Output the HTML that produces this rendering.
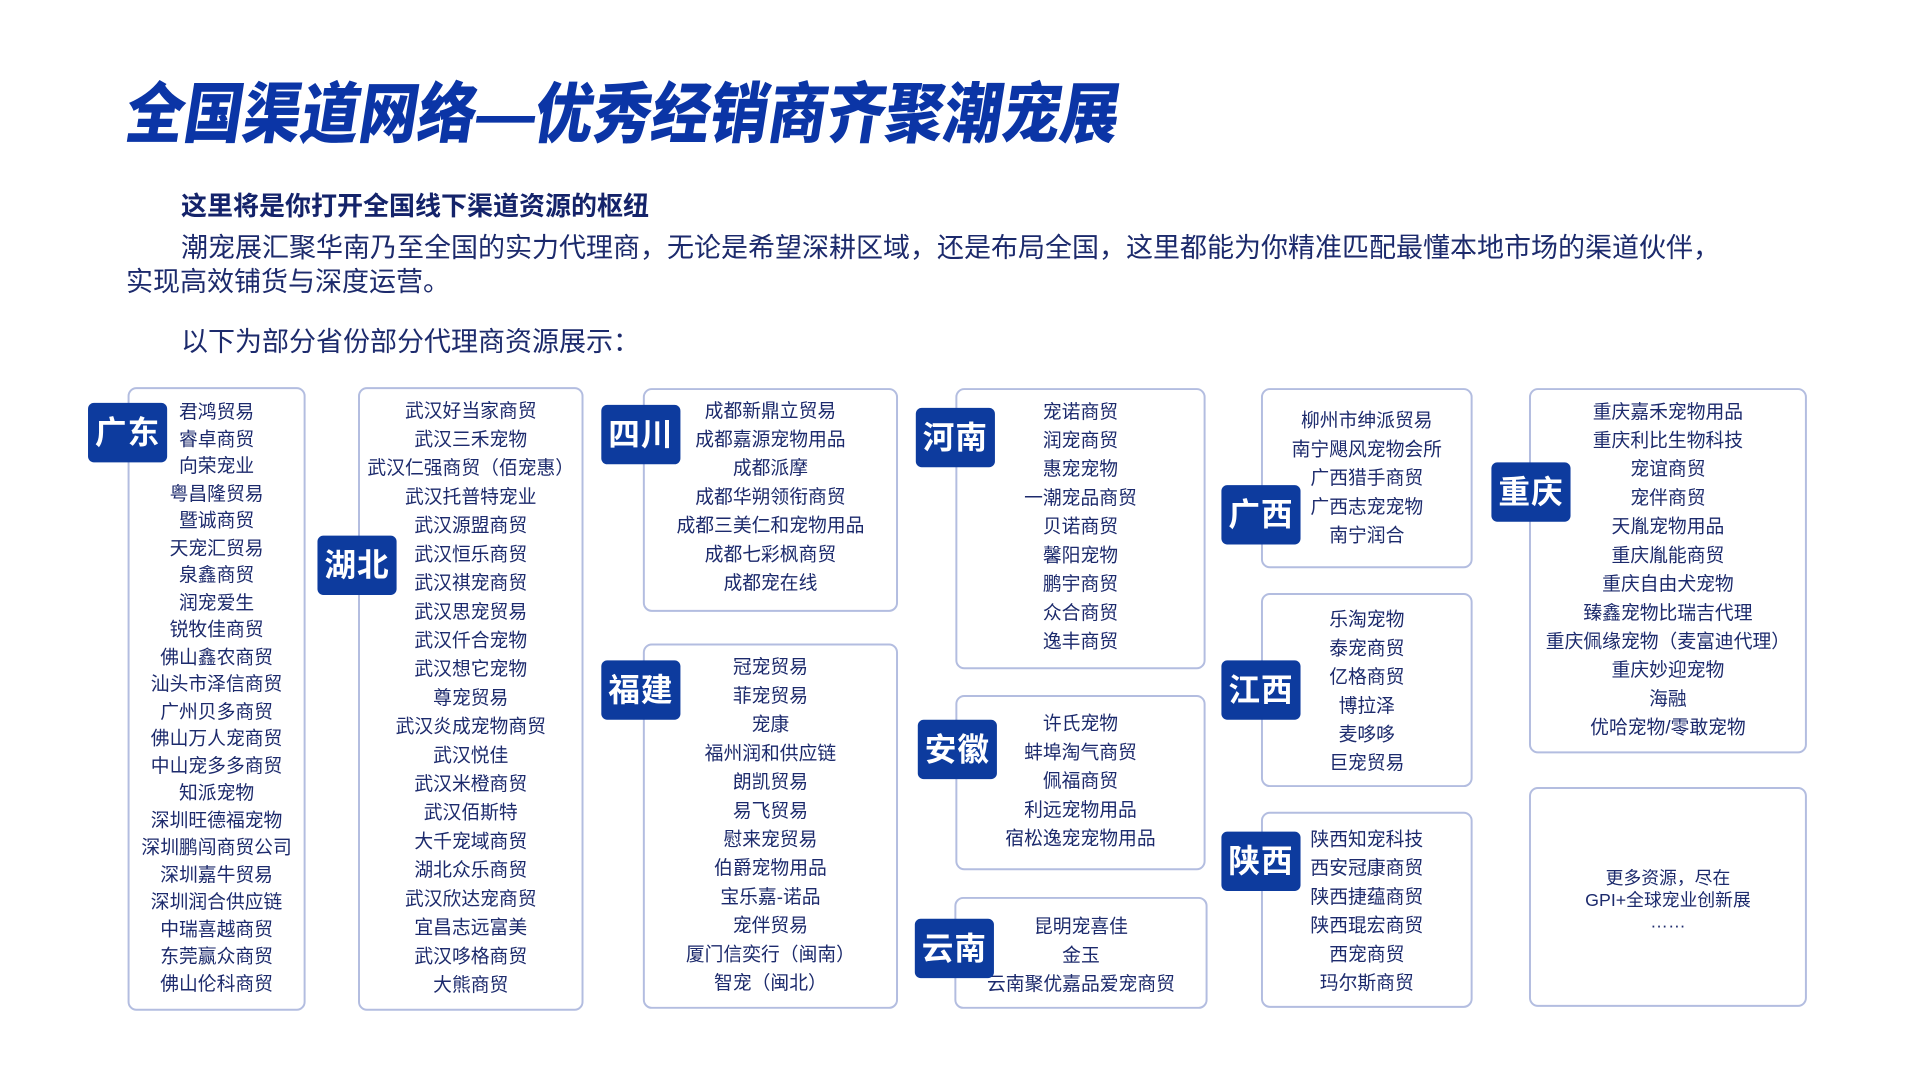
<!DOCTYPE html>
<html><head><meta charset="utf-8"><style>
*{margin:0;padding:0;box-sizing:border-box}
body{width:1920px;height:1080px;background:#fff;position:relative;overflow:hidden;font-family:"Liberation Sans","Noto Sans CJK SC",sans-serif;color:#1c2a6c}
.a{position:absolute}
.title{left:133px;top:74px;font-size:66px;font-weight:900;color:#0b35a6;white-space:nowrap;line-height:80px;transform-origin:0 0;transform:scaleX(0.885) skewX(-10deg)}
.p{font-size:27px;white-space:nowrap;line-height:34px}
.wrap{position:absolute;left:0;top:0;width:1920px;height:1080px;transform-origin:0 0;transform:scale(0.989,0.99)}
.box{position:absolute;border:2px solid #b3bde0;border-radius:9px;background:#fff}
.lab{position:absolute;width:80px;height:60px;background:#0d3b9e;color:#fff;border-radius:6px;font-size:32px;font-weight:bold;text-align:center;line-height:60px;letter-spacing:1px}
.list{position:absolute;text-align:center;font-size:19px;line-height:29px;white-space:nowrap}
</style></head><body>
<div class="a title">全国渠道网络—优秀经销商齐聚潮宠展</div>
<div class="a p" style="left:181px;top:189px;font-weight:bold;font-size:26px;color:#14236a">这里将是你打开全国线下渠道资源的枢纽</div>
<div class="a p" style="left:181px;top:231px">潮宠展汇聚华南乃至全国的实力代理商，无论是希望深耕区域，还是布局全国，这里都能为你精准匹配最懂本地市场的渠道伙伴，</div>
<div class="a p" style="left:126px;top:265px">实现高效铺货与深度运营。</div>
<div class="a p" style="left:181px;top:325px">以下为部分省份部分代理商资源展示：</div>

<div class="wrap">
<div class="box" style="left:129px;top:391px;width:180px;height:630px"></div>
<div class="list" style="left:129px;width:180px;top:403px;line-height:27.5px">君鸿贸易<br>睿卓商贸<br>向荣宠业<br>粤昌隆贸易<br>暨诚商贸<br>天宠汇贸易<br>泉鑫商贸<br>润宠爱生<br>锐牧佳商贸<br>佛山鑫农商贸<br>汕头市泽信商贸<br>广州贝多商贸<br>佛山万人宠商贸<br>中山宠多多商贸<br>知派宠物<br>深圳旺德福宠物<br>深圳鹏闯商贸公司<br>深圳嘉牛贸易<br>深圳润合供应链<br>中瑞喜越商贸<br>东莞赢众商贸<br>佛山伦科商贸</div>
<div class="lab" style="left:89px;top:407px">广东</div>

<div class="box" style="left:362px;top:391px;width:228px;height:630px"></div>
<div class="list" style="left:362px;width:228px;top:401px">武汉好当家商贸<br>武汉三禾宠物<br>武汉仁强商贸（佰宠惠）<br>武汉托普特宠业<br>武汉源盟商贸<br>武汉恒乐商贸<br>武汉祺宠商贸<br>武汉思宠贸易<br>武汉仟合宠物<br>武汉想它宠物<br>尊宠贸易<br>武汉炎成宠物商贸<br>武汉悦佳<br>武汉米橙商贸<br>武汉佰斯特<br>大千宠域商贸<br>湖北众乐商贸<br>武汉欣达宠商贸<br>宜昌志远富美<br>武汉哆格商贸<br>大熊商贸</div>
<div class="lab" style="left:321px;top:541px">湖北</div>

<div class="box" style="left:650px;top:392px;width:258px;height:226px"></div>
<div class="list" style="left:650px;width:258px;top:401px">成都新鼎立贸易<br>成都嘉源宠物用品<br>成都派摩<br>成都华朔领衔商贸<br>成都三美仁和宠物用品<br>成都七彩枫商贸<br>成都宠在线</div>
<div class="lab" style="left:608px;top:409px">四川</div>

<div class="box" style="left:650px;top:650px;width:258px;height:369px"></div>
<div class="list" style="left:650px;width:258px;top:660px">冠宠贸易<br>菲宠贸易<br>宠康<br>福州润和供应链<br>朗凯贸易<br>易飞贸易<br>慰来宠贸易<br>伯爵宠物用品<br>宝乐嘉-诺品<br>宠伴贸易<br>厦门信奕行（闽南）<br>智宠（闽北）</div>
<div class="lab" style="left:608px;top:667px">福建</div>

<div class="box" style="left:966px;top:392px;width:253px;height:284px"></div>
<div class="list" style="left:966px;width:253px;top:402px">宠诺商贸<br>润宠商贸<br>惠宠宠物<br>一潮宠品商贸<br>贝诺商贸<br>馨阳宠物<br>鹏宇商贸<br>众合商贸<br>逸丰商贸</div>
<div class="lab" style="left:926px;top:412px">河南</div>

<div class="box" style="left:966px;top:702px;width:253px;height:177px"></div>
<div class="list" style="left:966px;width:253px;top:717px">许氏宠物<br>蚌埠淘气商贸<br>佩福商贸<br>利远宠物用品<br>宿松逸宠宠物用品</div>
<div class="lab" style="left:928px;top:727px">安徽</div>

<div class="box" style="left:965px;top:906px;width:256px;height:113px"></div>
<div class="list" style="left:965px;width:256px;top:922px">昆明宠喜佳<br>金玉<br>云南聚优嘉品爱宠商贸</div>
<div class="lab" style="left:925px;top:928px">云南</div>

<div class="box" style="left:1275px;top:392px;width:214px;height:182px"></div>
<div class="list" style="left:1275px;width:214px;top:411px">柳州市绅派贸易<br>南宁飓风宠物会所<br>广西猎手商贸<br>广西志宠宠物<br>南宁润合</div>
<div class="lab" style="left:1235px;top:490px">广西</div>

<div class="box" style="left:1275px;top:599px;width:214px;height:196px"></div>
<div class="list" style="left:1275px;width:214px;top:612px">乐淘宠物<br>泰宠商贸<br>亿格商贸<br>博拉泽<br>麦哆哆<br>巨宠贸易</div>
<div class="lab" style="left:1235px;top:667px">江西</div>

<div class="box" style="left:1275px;top:820px;width:214px;height:198px"></div>
<div class="list" style="left:1275px;width:214px;top:834px">陕西知宠科技<br>西安冠康商贸<br>陕西捷蕴商贸<br>陕西琨宏商贸<br>西宠商贸<br>玛尔斯商贸</div>
<div class="lab" style="left:1235px;top:840px">陕西</div>

<div class="box" style="left:1546px;top:392px;width:281px;height:369px"></div>
<div class="list" style="left:1546px;width:281px;top:402px">重庆嘉禾宠物用品<br>重庆利比生物科技<br>宠谊商贸<br>宠伴商贸<br>天胤宠物用品<br>重庆胤能商贸<br>重庆自由犬宠物<br>臻鑫宠物比瑞吉代理<br>重庆佩缘宠物（麦富迪代理）<br>重庆妙迎宠物<br>海融<br>优哈宠物/零敢宠物</div>
<div class="lab" style="left:1508px;top:467px">重庆</div>

<div class="box" style="left:1546px;top:795px;width:281px;height:222px"></div>
<div class="list" style="left:1546px;width:281px;top:876px;line-height:22px;font-size:18px">更多资源，尽在<br>GPI+全球宠业创新展<br>……</div>
</div>
</body></html>
